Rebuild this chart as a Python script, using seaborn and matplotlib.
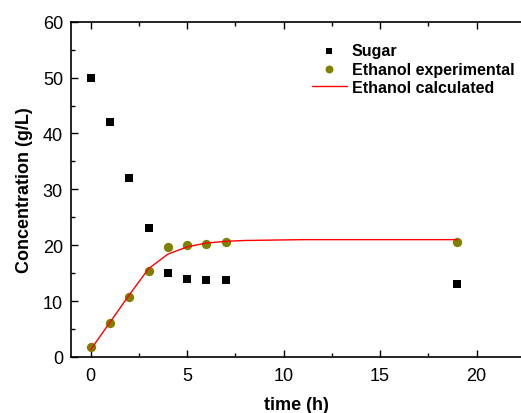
import matplotlib
matplotlib.use("Agg")
import matplotlib.pyplot as plt
import seaborn as sns
import pandas as pd
from matplotlib.ticker import MultipleLocator

time_exp = [0, 1, 2, 3, 4, 5, 6, 7, 19]
sugar = [50, 42, 32, 23, 15, 14, 13.8, 13.7, 13]
ethanol_exp = [1.7, 6.1, 10.7, 15.3, 19.6, 20.1, 20.3, 20.5, 20.5]
time_calc = [0, 1, 2, 3, 4, 5, 6, 7, 8, 9, 10, 11, 12, 13, 14, 15, 16, 17, 18, 19]
ethanol_calc = [1.3, 6.2, 11.1, 15.8, 18.4, 19.7, 20.4, 20.7, 20.85, 20.9, 20.95,
                21.0, 21.0, 21.0, 21.0, 21.0, 21.0, 21.0, 21.0, 21.0]

sns.set_theme(style="ticks")
plt.rcParams['font.family'] = ['Liberation Sans', 'DejaVu Sans']
plt.rcParams['text.color'] = 'black'
plt.rcParams['axes.labelcolor'] = 'black'

df_exp = pd.DataFrame({"t": time_exp, "sugar": sugar, "eth": ethanol_exp})
df_calc = pd.DataFrame({"t": time_calc, "eth": ethanol_calc})

fig = plt.figure(figsize=(5.21, 4.14), dpi=100)
ax = fig.add_axes([71.3 / 521, 1 - 358 / 414, (521 - 71.3) / 521, (358 - 22.7) / 414])

sns.scatterplot(data=df_exp, x="t", y="sugar", ax=ax, marker="s", color="black",
                s=30, edgecolor="black", linewidth=0, label="Sugar", zorder=3)
sns.scatterplot(data=df_exp, x="t", y="eth", ax=ax, marker="o", color="#808000",
                s=45, edgecolor="#808000", linewidth=0, label="Ethanol experimental", zorder=3)
sns.lineplot(data=df_calc, x="t", y="eth", ax=ax, color="#ff0000", linewidth=1.0,
             label="Ethanol calculated", zorder=4)

ax.set_xlim(-1, 22.3)
ax.set_ylim(0, 60)
ax.xaxis.set_major_locator(MultipleLocator(5))
ax.xaxis.set_minor_locator(MultipleLocator(2.5))
ax.yaxis.set_major_locator(MultipleLocator(10))
ax.yaxis.set_minor_locator(MultipleLocator(5))
ax.tick_params(which="both", direction="in", top=True, right=False, labelsize=13,
               color="black", labelcolor="black", width=1)
ax.tick_params(axis="x", which="both", pad=7)
ax.tick_params(axis="y", which="both", pad=6)
ax.tick_params(which="major", length=5)
ax.tick_params(which="minor", length=3)
ax.spines["right"].set_visible(False)
for s in ["left", "bottom", "top"]:
    ax.spines[s].set_linewidth(1.2)
    ax.spines[s].set_color("black")

ax.set_xlabel("time (h)", fontsize=13, fontweight="bold", labelpad=9)
ax.set_ylabel("Concentration (g/L)", fontsize=13, fontweight="bold", labelpad=7)

leg = ax.legend(loc="upper left", bbox_to_anchor=(0.535, 0.935), frameon=False,
                prop={"weight": "bold", "size": 11.5}, handlelength=2.2,
                handletextpad=0.3, labelspacing=0.2, borderaxespad=0, borderpad=0,
                markerscale=0.85)

fig.savefig("out.png", dpi=100)
